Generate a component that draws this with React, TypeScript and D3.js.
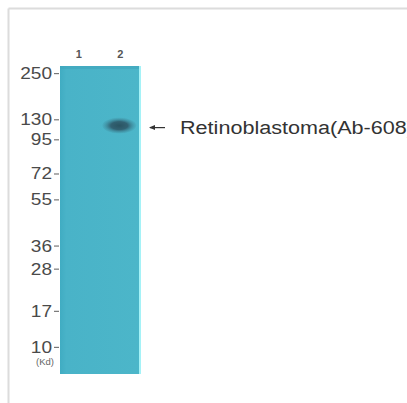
import React from "react";
import * as d3 from "d3";

const markerKd = [250, 130, 95, 72, 55, 36, 28, 17, 10];
const markerLabels = ["250", "130", "95", "72", "55", "36", "28", "17", "10"];
// relative migration (fraction of blot height)
const markerRf = [0.023, 0.173, 0.238, 0.349, 0.433, 0.583, 0.658, 0.795, 0.912];
const lanes = ["1", "2"];
const bandLane = ["2"];
const bandKd = [115];
const bandLabel = "Retinoblastoma(Ab-608)";

const W = 407, H = 403;
const blotTop = 66, blotBottom = 374, blotLeft = 60, blotRight = 139;
const FONT = "Liberation Sans, Arial, sans-serif";

export default function App() {
  const rf = d3.scaleLog().domain(markerKd).range(markerRf);
  const y = d3.scaleLinear().domain([0, 1]).range([blotTop, blotBottom]);
  const x = d3.scaleBand().domain(lanes).range([58, 141]).padding(0);
  const yOf = (kd: number) => y(rf(kd));

  return (
    <svg width={W} height={H} style={{ position: "absolute", left: 0, top: 0, background: "#fff" }}>
      <defs>
        <radialGradient id="band" cx="50%" cy="50%" r="50%">
          <stop offset="0%" stopColor="#2a5462" />
          <stop offset="50%" stopColor="#326273" />
          <stop offset="100%" stopColor="#3f8c9e" stopOpacity="0.15" />
        </radialGradient>
        <linearGradient id="blot" x1="0" x2="1" y1="0" y2="0">
          <stop offset="0%" stopColor="#40acc2" />
          <stop offset="8%" stopColor="#49b3c8" />
          <stop offset="100%" stopColor="#4cb6c9" />
        </linearGradient>
      </defs>
      {/* frame */}
      <line x1={8.5} y1={8.5} x2={W} y2={8.5} stroke="#dcdcdc" strokeWidth={2} />
      <line x1={8.5} y1={8.5} x2={8.5} y2={H} stroke="#dcdcdc" strokeWidth={2} />
      {/* blot */}
      <rect x={blotLeft} y={blotTop} width={blotRight - blotLeft} height={blotBottom - blotTop} fill="url(#blot)" />
      <rect x={blotLeft} y={blotTop} width={blotRight - blotLeft} height={3} fill="#3fa5bd" opacity={0.6} />
      <rect x={blotRight} y={blotTop} width={2} height={blotBottom - blotTop} fill="#a5f2f7" />
      {/* lane labels */}
      {lanes.map((l) => (
        <text key={l} x={(x(l) as number) + x.bandwidth() / 2} y={58} textAnchor="middle"
          fontFamily={FONT} fontSize={11} fontWeight="bold" fill="#555">{l}</text>
      ))}
      {/* markers */}
      {markerKd.map((kd, i) => (
        <g key={kd}>
          <text x={52} y={yOf(kd) + 6} textAnchor="end" fontFamily={FONT}
            fontSize={16.5} fill="#4a4a4a" textLength={markerLabels[i].length * 10.6}
            lengthAdjust="spacingAndGlyphs">{markerLabels[i]}</text>
          <line x1={54} x2={59} y1={yOf(kd) + 0.5} y2={yOf(kd) + 0.5} stroke="#777" strokeWidth={1.2} />
        </g>
      ))}
      <text x={45} y={yOf(10) + 18} textAnchor="middle" fontFamily={FONT}
        fontSize={9.5} fill="#666">(Kd)</text>
      {/* band */}
      {bandLane.map((l, i) => (
        <ellipse key={l} cx={(x(l) as number) + x.bandwidth() / 2 - 1} cy={yOf(bandKd[i]) - 1.5}
          rx={17} ry={8} fill="url(#band)" />
      ))}
      {/* arrow + label */}
      <line x1={150} x2={165} y1={yOf(bandKd[0]) + 0.5} y2={yOf(bandKd[0]) + 0.5} stroke="#333" strokeWidth={1.2} />
      <path d={`M149,${yOf(bandKd[0]) + 0.5} l6,-2.5 l0,5 z`} fill="#333" />
      <text x={180} y={yOf(bandKd[0]) + 6.5} fontFamily={FONT}
        fontSize={18} fill="#333" textLength={234} lengthAdjust="spacingAndGlyphs">{bandLabel}</text>
    </svg>
  );
}
